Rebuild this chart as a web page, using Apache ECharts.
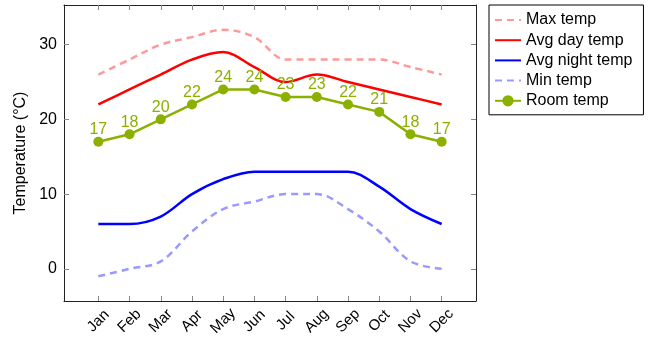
<!DOCTYPE html>
<html><head><meta charset="utf-8">
<script src="https://cdn.jsdelivr.net/npm/echarts@6/dist/echarts.min.js"></script>
<style>html,body{margin:0;padding:0;background:#fff}#c{width:651px;height:341px}</style>
</head><body><div id="c"></div>
<script>
const months = ['Jan','Feb','Mar','Apr','May','Jun','Jul','Aug','Sep','Oct','Nov','Dec'];
const maxTemp = [26,28,30,31,32,31,28,28,28,28,27,26];
const avgDay = [22,24,26,28,29,27,25,26,25,24,23,22];
const avgNight = [6,6,7,10,12,13,13,13,13,11,8,6];
const minTemp = [-1,0,1,5,8,9,10,10,8,5,1,0];
const roomTemp = [17,18,20,22,24,24,23,23,22,21,18,17];
const yTicks = [0,10,20,30];

const idx = months.map((m,i)=>i);
const pts = arr => arr.map((v,i)=>[i,v]);
const font = 'Liberation Sans, Arial, sans-serif';
const frame = '#222';

const xBase = {
  type:'value', min:-1.1, max:12.1,
  axisLine:{show:true,onZero:false,lineStyle:{color:frame,width:1}},
  axisTick:{show:true,inside:true,length:5,customValues:idx,lineStyle:{color:'#888'}},
  splitLine:{show:false}
};
const yBase = {
  type:'value', min:-4.3, max:35.3,
  axisLine:{show:true,onZero:false,lineStyle:{color:frame,width:1}},
  axisTick:{show:true,inside:true,length:5,customValues:yTicks,lineStyle:{color:'#888'}},
  splitLine:{show:false}
};

const chart = echarts.init(document.getElementById('c'));
chart.setOption({
  animation:false,
  textStyle:{fontFamily:font},
  grid:{left:64,right:175,top:5,bottom:40},
  legend:{
    orient:'vertical', left:489, top:5,
    itemWidth:26, itemHeight:14, itemGap:4.2,
    padding:[7,11,6,5],
    borderColor:'#000', borderWidth:1,
    textStyle:{fontFamily:font,fontSize:16,color:'#000'},
    data:[
      {name:'Max temp',itemStyle:{opacity:0}},
      {name:'Avg day temp',itemStyle:{opacity:0}},
      {name:'Avg night temp',itemStyle:{opacity:0}},
      {name:'Min temp',itemStyle:{opacity:0}},
      {name:'Room temp'}
    ]
  },
  xAxis:[
    Object.assign({},xBase,{position:'bottom',
      axisLabel:{show:true,customValues:idx,rotate:45,align:'center',verticalAlign:'middle',margin:20,fontSize:15,color:'#000',fontFamily:font,
        formatter:v=>months[Math.round(v)]}}),
    Object.assign({},xBase,{position:'top',axisLabel:{show:false}})
  ],
  yAxis:[
    Object.assign({},yBase,{position:'left',
      name:'Temperature (°C)',nameLocation:'middle',nameGap:33,nameRotate:90,
      nameTextStyle:{fontFamily:font,fontSize:16,color:'#000'},
      axisLabel:{show:true,customValues:yTicks,margin:7,fontSize:16,color:'#000',fontFamily:font}}),
    Object.assign({},yBase,{position:'right',axisLabel:{show:false}})
  ],
  series:[
    {name:'Max temp',type:'line',data:pts(maxTemp),smooth:0.35,showSymbol:false,
      lineStyle:{color:'#ff9999',width:2.5,type:[7,5]},itemStyle:{color:'#ff9999'}},
    {name:'Avg day temp',type:'line',data:pts(avgDay),smooth:0.35,showSymbol:false,
      lineStyle:{color:'#ff0000',width:2.5},itemStyle:{color:'#ff0000'}},
    {name:'Avg night temp',type:'line',data:pts(avgNight),smooth:0.35,showSymbol:false,
      lineStyle:{color:'#0000ff',width:2.5},itemStyle:{color:'#0000ff'}},
    {name:'Min temp',type:'line',data:pts(minTemp),smooth:0.35,showSymbol:false,
      lineStyle:{color:'#9999ff',width:2.5,type:[7,5]},itemStyle:{color:'#9999ff'}},
    {name:'Room temp',type:'line',data:pts(roomTemp),symbol:'circle',symbolSize:10,
      lineStyle:{color:'#8cb000',width:2.5},itemStyle:{color:'#8cb000'},
      label:{show:true,position:'top',distance:-1,color:'#8cb000',fontSize:16,fontFamily:font,
        formatter:p=>p.value[1]}}
  ]
});
</script></body></html>
